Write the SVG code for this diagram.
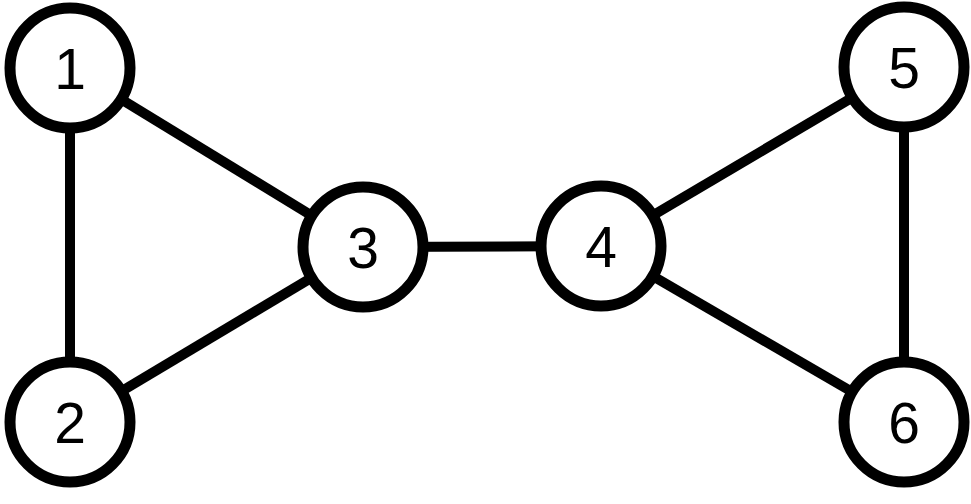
<svg xmlns="http://www.w3.org/2000/svg" width="971" height="504" viewBox="0 0 971 504">
<style>
.edge{stroke:#000;stroke-width:10;fill:none}
.node circle{fill:#fff;stroke:#000;stroke-width:11}
.node text{font-family:"Liberation Sans",Arial,sans-serif;font-size:57px;text-anchor:middle;fill:#000}
</style>
<rect width="971" height="504" fill="#fff"/>
<g id="edges">
<line class="edge" x1="70" y1="68" x2="70" y2="422"/>
<line class="edge" x1="70" y1="68" x2="363" y2="247"/>
<line class="edge" x1="70" y1="422" x2="363" y2="247"/>
<line class="edge" x1="363" y1="247" x2="601" y2="246"/>
<line class="edge" x1="601" y1="246" x2="904" y2="67"/>
<line class="edge" x1="601" y1="246" x2="904" y2="422"/>
<line class="edge" x1="904" y1="67" x2="904" y2="422"/>
</g>
<g id="node1" class="node"><circle cx="70" cy="68" r="60"/><text x="70" y="89">1</text></g>
<g id="node2" class="node"><circle cx="70" cy="422" r="60"/><text x="70" y="443">2</text></g>
<g id="node3" class="node"><circle cx="363" cy="247" r="60"/><text x="363" y="268">3</text></g>
<g id="node4" class="node"><circle cx="601" cy="246" r="60"/><text x="601" y="267">4</text></g>
<g id="node5" class="node"><circle cx="904" cy="67" r="60"/><text x="904" y="88">5</text></g>
<g id="node6" class="node"><circle cx="904" cy="422" r="60"/><text x="904" y="443">6</text></g>
</svg>
